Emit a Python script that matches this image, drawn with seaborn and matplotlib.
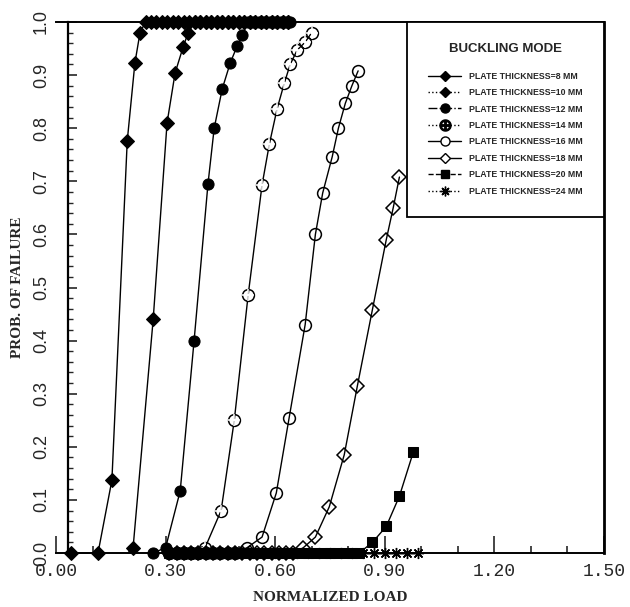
import matplotlib
matplotlib.use("Agg")
import matplotlib.pyplot as plt
import seaborn as sns
from matplotlib.lines import Line2D
from matplotlib.ticker import MultipleLocator, FixedLocator

sns.set_style("ticks")
plt.rcParams['font.family'] = ['Liberation Sans', 'DejaVu Sans']

# ---------------- data ----------------
x_8 = [0.04, 0.115, 0.153, 0.195, 0.216, 0.23,
       0.245, 0.26, 0.275, 0.29, 0.305, 0.32, 0.335, 0.35, 0.365, 0.38, 0.395,
       0.41, 0.425, 0.44, 0.455, 0.47, 0.485, 0.50, 0.515, 0.53, 0.545, 0.56,
       0.575, 0.59, 0.605, 0.62, 0.635]
y_8 = [0.0, 0.0, 0.137, 0.776, 0.923, 0.98,
       1.0, 1.0, 1.0, 1.0, 1.0, 1.0, 1.0, 1.0, 1.0, 1.0, 1.0,
       1.0, 1.0, 1.0, 1.0, 1.0, 1.0, 1.0, 1.0, 1.0, 1.0, 1.0,
       1.0, 1.0, 1.0, 1.0, 1.0]

x_10 = [0.211, 0.266, 0.304, 0.326, 0.348, 0.362,
        0.38, 0.395, 0.41, 0.425, 0.44, 0.455, 0.47, 0.485, 0.50, 0.515,
        0.53, 0.545, 0.56, 0.575, 0.59, 0.605, 0.62, 0.635]
y_10 = [0.01, 0.44, 0.81, 0.904, 0.953, 0.98,
        1.0, 1.0, 1.0, 1.0, 1.0, 1.0, 1.0, 1.0, 1.0, 1.0,
        1.0, 1.0, 1.0, 1.0, 1.0, 1.0, 1.0, 1.0]

x_12 = [0.266, 0.30, 0.34, 0.378, 0.416, 0.433, 0.455, 0.477, 0.496, 0.51,
        0.525, 0.54, 0.555, 0.57, 0.585, 0.60, 0.615, 0.63, 0.64]
y_12 = [0.0, 0.01, 0.117, 0.40, 0.695, 0.80, 0.874, 0.923, 0.955, 0.975,
        1.0, 1.0, 1.0, 1.0, 1.0, 1.0, 1.0, 1.0, 1.0]

x_14 = [0.31, 0.33, 0.35, 0.37, 0.39, 0.408, 0.452, 0.488, 0.526, 0.564,
        0.584, 0.605, 0.625, 0.641, 0.66, 0.682, 0.70]
y_14 = [0.0, 0.0, 0.0, 0.0, 0.0, 0.01, 0.08, 0.25, 0.486, 0.693,
        0.77, 0.836, 0.885, 0.92, 0.947, 0.962, 0.98]

x_16 = [0.31, 0.33, 0.35, 0.37, 0.39, 0.41, 0.43, 0.45, 0.47, 0.49,
        0.523, 0.564, 0.603, 0.638, 0.682, 0.71, 0.73, 0.756, 0.773, 0.792,
        0.81, 0.827]
y_16 = [0.0, 0.0, 0.0, 0.0, 0.0, 0.0, 0.0, 0.0, 0.0, 0.0,
        0.01, 0.03, 0.113, 0.254, 0.43, 0.60, 0.678, 0.746, 0.80, 0.847,
        0.88, 0.908]

x_18 = [0.31, 0.33, 0.35, 0.37, 0.39, 0.41, 0.43, 0.45, 0.47, 0.49,
        0.51, 0.53, 0.55, 0.57, 0.59, 0.61, 0.63, 0.65,
        0.677, 0.71, 0.748, 0.789, 0.825, 0.866, 0.904, 0.923, 0.94]
y_18 = [0.0, 0.0, 0.0, 0.0, 0.0, 0.0, 0.0, 0.0, 0.0, 0.0,
        0.0, 0.0, 0.0, 0.0, 0.0, 0.0, 0.0, 0.0,
        0.01, 0.03, 0.087, 0.185, 0.315, 0.458, 0.59, 0.65, 0.708]

x_20 = [0.31, 0.33, 0.35, 0.37, 0.39, 0.41, 0.43, 0.45, 0.47, 0.49,
        0.51, 0.53, 0.55, 0.57, 0.59, 0.61, 0.63, 0.65, 0.67, 0.69,
        0.71, 0.73, 0.75, 0.77, 0.79, 0.81, 0.83,
        0.866, 0.904, 0.94, 0.978]
y_20 = [0.0, 0.0, 0.0, 0.0, 0.0, 0.0, 0.0, 0.0, 0.0, 0.0,
        0.0, 0.0, 0.0, 0.0, 0.0, 0.0, 0.0, 0.0, 0.0, 0.0,
        0.0, 0.0, 0.0, 0.0, 0.0, 0.0, 0.0,
        0.02, 0.05, 0.107, 0.19]

x_24 = [0.33, 0.36, 0.39, 0.42, 0.45, 0.48, 0.51, 0.54, 0.57, 0.60,
        0.63, 0.66, 0.69, 0.72, 0.75, 0.78, 0.81, 0.84, 0.87, 0.90,
        0.93, 0.96, 0.99]
y_24 = [0.0, 0.0, 0.0, 0.0, 0.0, 0.0, 0.0, 0.0, 0.0, 0.0,
        0.0, 0.0, 0.0, 0.0, 0.0, 0.0, 0.0, 0.0, 0.0, 0.0,
        0.0, 0.0, 0.0]

labels = ["PLATE THICKNESS=8 MM", "PLATE THICKNESS=10 MM", "PLATE THICKNESS=12 MM",
          "PLATE THICKNESS=14 MM", "PLATE THICKNESS=16 MM", "PLATE THICKNESS=18 MM",
          "PLATE THICKNESS=20 MM", "PLATE THICKNESS=24 MM"]
x_ticks = [0.0, 0.3, 0.6, 0.9, 1.2, 1.5]
x_ticklabels = ["0.00", "0.30", "0.60", "0.90", "1.20", "1.50"]
y_ticks = [0.0, 0.1, 0.2, 0.3, 0.4, 0.5, 0.6, 0.7, 0.8, 0.9, 1.0]
y_ticklabels = ["0.0", "0.1", "0.2", "0.3", "0.4", "0.5", "0.6", "0.7", "0.8", "0.9", "1.0"]

# ---------------- figure ----------------
fig = plt.figure(figsize=(6.3, 6.07), dpi=100)
ax = fig.add_axes([56 / 630, 1 - 553 / 607, 548 / 630, 531 / 607])

common = dict(ax=ax, color="black", lw=1.0, sort=False, estimator=None,
              mec="black", legend=False, clip_on=False)

sns.lineplot(x=x_8, y=y_8, marker="D", ms=7, mfc="black", zorder=5, **common)
sns.lineplot(x=x_10, y=y_10, marker="D", ms=7, mfc="black", zorder=5, **common)
sns.lineplot(x=x_12, y=y_12, marker="o", ms=8, mfc="black", zorder=5, **common)
sns.lineplot(x=x_14, y=y_14, marker="o", ms=8.5, mfc="none", mew=1.1, zorder=4, **common)
sns.lineplot(x=x_14, y=y_14, marker="+", ms=8.5, mew=1.1, linestyle="none",
             ax=ax, color="black", sort=False, estimator=None, legend=False,
             clip_on=False, zorder=4)
sns.lineplot(x=x_16, y=y_16, marker="o", ms=8.5, mfc="none", mew=1.1, zorder=4, **common)
sns.lineplot(x=x_18, y=y_18, marker="D", ms=7.5, mfc="none", mew=1.1, zorder=4, **common)
sns.lineplot(x=x_20, y=y_20, marker="s", ms=7.5, mfc="black", zorder=6, **common)
sns.lineplot(x=x_24, y=y_24, marker=(8, 2, 0), ms=8, mew=1.0, zorder=6, **common)

# axes limits & spines
ax.set_xlim(0, 1.5)
ax.set_ylim(0, 1.0)
ax.spines["left"].set_position(("data", 0.033))
for s in ["top", "bottom"]:
    ax.spines[s].set_linewidth(1.4)
ax.spines["left"].set_linewidth(1.6)
ax.spines["right"].set_linewidth(2.0)
for s in ax.spines.values():
    s.set_color("black")

ax.xaxis.set_major_locator(FixedLocator(x_ticks))
ax.xaxis.set_minor_locator(MultipleLocator(0.1))
ax.yaxis.set_major_locator(FixedLocator(y_ticks))
ax.yaxis.set_minor_locator(MultipleLocator(0.02))
ax.set_xticklabels(x_ticklabels, family="Liberation Mono", fontsize=13)
ax.set_yticklabels(y_ticklabels, rotation=90, va="center", fontsize=13)
ax.tick_params(axis="x", which="major", direction="in", length=12, width=1.2, pad=7,
               top=False)
ax.tick_params(axis="x", which="minor", direction="in", length=5, width=1.2, top=False)
ax.tick_params(axis="y", which="major", direction="in", length=6.5, width=1.2, pad=13,
               right=False)
ax.tick_params(axis="y", which="minor", direction="in", length=3.6, width=1.0, right=False)

ax.set_xlabel("NORMALIZED LOAD", family="Liberation Serif", fontweight="bold",
              fontsize=11, labelpad=8)
ax.set_ylabel("PROB. OF FAILURE", family="Liberation Serif", fontweight="bold",
              fontsize=11)
ax.yaxis.set_label_coords(-0.058, 0.5)

# legend
handles = [
    Line2D([], [], color="k", lw=1, ls="-", marker="D", ms=5.5, mfc="k"),
    Line2D([], [], color="k", lw=1, ls=":", marker="D", ms=5.5, mfc="k"),
    Line2D([], [], color="k", lw=1, ls="-.", marker="o", ms=6.5, mfc="k"),
    Line2D([], [], color="k", lw=1, ls=":", marker=r"$\oplus$", ms=8),
    Line2D([], [], color="k", lw=1, ls="-", marker="o", ms=6.5, mfc="white"),
    Line2D([], [], color="k", lw=1, ls="-", marker="D", ms=5.5, mfc="white"),
    Line2D([], [], color="k", lw=1, ls="--", marker="s", ms=6, mfc="k"),
    Line2D([], [], color="k", lw=1, ls=":", marker=(8, 2, 0), ms=7),
]
leg = ax.legend(handles, labels, loc="upper right", bbox_to_anchor=(1, 1),
                borderaxespad=0, fancybox=False, edgecolor="black", framealpha=1,
                title="BUCKLING MODE", prop={"size": 6.3, "weight": "bold"},
                title_fontproperties={"size": 9.5, "weight": "bold"},
                handlelength=3.8, handletextpad=0.9, borderpad=2.4, labelspacing=0.85)
leg.get_frame().set_linewidth(1.3)
leg._legend_box.sep = 12
leg.set_zorder(10)

fig.savefig("out.png", dpi=100, facecolor="white")
